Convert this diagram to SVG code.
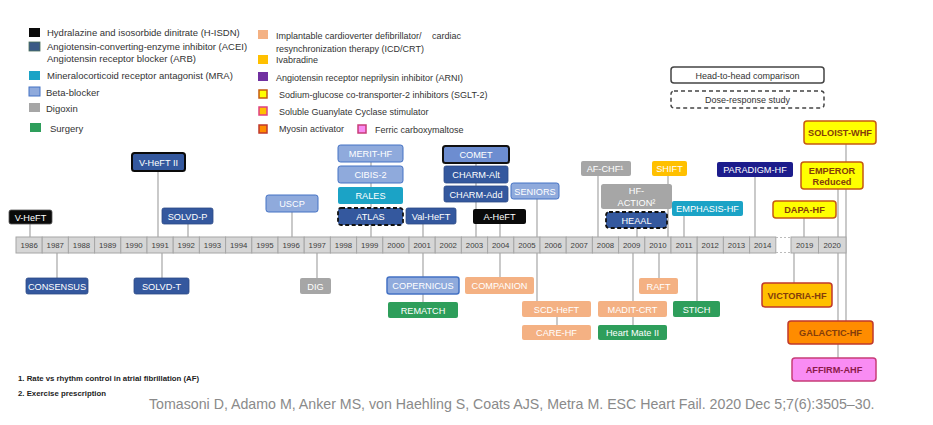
<svg xmlns="http://www.w3.org/2000/svg" width="933" height="425" viewBox="0 0 933 425">
<style>
text{font-family:"Liberation Sans",Arial,sans-serif}
.lg{font-size:9px;fill:#333}
.lg2{font-size:9.5px;fill:#333}
.b{font-size:9.2px;fill:#fff;text-anchor:middle}
.bd{font-size:9.2px;fill:#833c0b;text-anchor:middle;font-weight:bold}
.yr{font-size:7.8px;fill:#404040;text-anchor:middle}
.cell{fill:#d6d6d6;stroke:#a6a6a6;stroke-width:1}
.con line{stroke:#a6a6a6;stroke-width:1.2}
.hisdn{fill:#0a0a0a}
.acei{fill:#34589e;stroke:#2c4a86;stroke-width:0.8}
.mra{fill:#1ba3c6}
.beta{fill:#8faadc;stroke:#4472c4;stroke-width:1}
.dig{fill:#a6a6a6}
.surg{fill:#2e9e5b}
.icd{fill:#f4b183}
.iva{fill:#ffc000}
.arni{fill:#1c1c8c}
.sglt{fill:#ffff00;stroke:#c55a11;stroke-width:1.5}
.sgc{fill:#ffc000;stroke:#c0392b;stroke-width:1.5}
.myo{fill:#ff8c00;stroke:#c0392b;stroke-width:1.5}
.fcm{fill:#f98cf3;stroke:#c83c78;stroke-width:1.5}
.fn{font-size:7.8px;fill:#222;font-weight:bold}
</style>

<!-- Legend -->
<g id="legend">
<rect x="29" y="28" width="11" height="9" class="hisdn"/>
<text x="47" y="36" class="lg2">Hydralazine and isosorbide dinitrate (H-ISDN)</text>
<rect x="29" y="42" width="11" height="9" fill="#3b5a86" stroke="#4a6f5a" stroke-width="0.8"/>
<text x="47" y="50" class="lg2">Angiotensin-converting-enzyme inhibitor (ACEI)</text>
<text x="47" y="62" class="lg2">Angiotensin receptor blocker (ARB)</text>
<rect x="29" y="71" width="11" height="9" class="mra"/>
<text x="47" y="79" class="lg2">Mineralocorticoid receptor antagonist (MRA)</text>
<rect x="29" y="87" width="11" height="9" class="beta"/>
<text x="46" y="96" class="lg2">Beta-blocker</text>
<rect x="29" y="103" width="11" height="9" class="dig"/>
<text x="46" y="112" class="lg2">Digoxin</text>
<rect x="30" y="123" width="11" height="9" class="surg"/>
<text x="50" y="132" class="lg2">Surgery</text>

<rect x="258" y="30" width="10" height="9" class="icd"/>
<text x="276" y="39" class="lg">Implantable cardioverter defibrillator/<tspan x="432">cardiac</tspan></text>
<text x="276" y="52" class="lg">resynchronization therapy (ICD/CRT)</text>
<rect x="258" y="55" width="10" height="9" class="iva"/>
<text x="276" y="63" class="lg">Ivabradine</text>
<rect x="258" y="72" width="10" height="9" fill="#7030a0"/>
<text x="276" y="81" class="lg">Angiotensin receptor neprilysin inhibitor (ARNI)</text>
<rect x="259" y="90" width="8" height="8" class="sglt"/>
<text x="279" y="98" class="lg">Sodium-glucose co-transporter-2 inhibitors (SGLT-2)</text>
<rect x="259" y="107" width="8" height="8" fill="#ffc000" stroke="#e04080" stroke-width="1.5"/>
<text x="279" y="115" class="lg">Soluble Guanylate Cyclase stimulator</text>
<rect x="259" y="125" width="8" height="8" class="myo"/>
<text x="279" y="132" class="lg">Myosin activator</text>
<rect x="358" y="125" width="8" height="8" class="fcm"/>
<text x="375" y="133" class="lg">Ferric carboxymaltose</text>

<rect x="671" y="67" width="153" height="16" rx="3" fill="#fff" stroke="#444" stroke-width="1.5"/>
<text x="747.5" y="78.5" class="lg" text-anchor="middle">Head-to-head comparison</text>
<rect x="671" y="91" width="153" height="17" rx="3" fill="#fff" stroke="#444" stroke-width="1.5" stroke-dasharray="4,3"/>
<text x="747.5" y="103" class="lg" text-anchor="middle">Dose-response study</text>
</g>

<!-- Connectors -->
<g id="connectors" class="con">
<line x1="30" y1="224" x2="30" y2="237"/>
<line x1="158" y1="171" x2="158" y2="237"/>
<line x1="188" y1="224" x2="188" y2="237"/>
<line x1="292" y1="212" x2="292" y2="237"/>
<line x1="57" y1="253" x2="57" y2="278"/>
<line x1="162" y1="253" x2="162" y2="278"/>
<line x1="317" y1="253" x2="317" y2="278"/>
<line x1="371" y1="162" x2="371" y2="237"/>
<line x1="423" y1="224" x2="423" y2="237"/>
<line x1="476" y1="163" x2="476" y2="237"/>
<line x1="500" y1="224" x2="500" y2="237"/>
<line x1="537" y1="199" x2="537" y2="237"/>
<line x1="423" y1="253" x2="423" y2="302"/>
<line x1="500" y1="253" x2="500" y2="277"/>
<line x1="537" y1="253" x2="537" y2="301"/>
<line x1="557" y1="317" x2="557" y2="325"/>
<line x1="633" y1="253" x2="633" y2="325"/>
<line x1="659" y1="253" x2="659" y2="278"/>
<line x1="697" y1="253" x2="697" y2="301"/>
<line x1="598" y1="176" x2="598" y2="237"/>
<line x1="668" y1="176" x2="668" y2="237"/>
<line x1="637" y1="228" x2="637" y2="237"/>
<line x1="684" y1="216" x2="684" y2="237"/>
<line x1="755" y1="177" x2="755" y2="237"/>
<line x1="846" y1="144" x2="846" y2="321"/>
<line x1="838" y1="189" x2="838" y2="358"/>
<line x1="804" y1="218" x2="804" y2="237"/>
<line x1="794" y1="253" x2="794" y2="283"/>
</g>

<!-- Timeline -->
<g id="timeline">
<rect class="cell" x="16" y="237" width="26.2" height="16"/><text class="yr" x="29.1" y="248">1986</text>
<rect class="cell" x="42.2" y="237" width="26.2" height="16"/><text class="yr" x="55.3" y="248">1987</text>
<rect class="cell" x="68.4" y="237" width="26.2" height="16"/><text class="yr" x="81.5" y="248">1988</text>
<rect class="cell" x="94.6" y="237" width="26.2" height="16"/><text class="yr" x="107.7" y="248">1989</text>
<rect class="cell" x="120.8" y="237" width="26.2" height="16"/><text class="yr" x="133.9" y="248">1990</text>
<rect class="cell" x="147" y="237" width="26.2" height="16"/><text class="yr" x="160.1" y="248">1991</text>
<rect class="cell" x="173.2" y="237" width="26.2" height="16"/><text class="yr" x="186.3" y="248">1992</text>
<rect class="cell" x="199.4" y="237" width="26.2" height="16"/><text class="yr" x="212.5" y="248">1993</text>
<rect class="cell" x="225.6" y="237" width="26.2" height="16"/><text class="yr" x="238.7" y="248">1994</text>
<rect class="cell" x="251.8" y="237" width="26.2" height="16"/><text class="yr" x="264.9" y="248">1995</text>
<rect class="cell" x="278" y="237" width="26.2" height="16"/><text class="yr" x="291.1" y="248">1996</text>
<rect class="cell" x="304.2" y="237" width="26.2" height="16"/><text class="yr" x="317.3" y="248">1997</text>
<rect class="cell" x="330.4" y="237" width="26.2" height="16"/><text class="yr" x="343.5" y="248">1998</text>
<rect class="cell" x="356.6" y="237" width="26.2" height="16"/><text class="yr" x="369.7" y="248">1999</text>
<rect class="cell" x="382.8" y="237" width="26.2" height="16"/><text class="yr" x="395.9" y="248">2000</text>
<rect class="cell" x="409" y="237" width="26.2" height="16"/><text class="yr" x="422.1" y="248">2001</text>
<rect class="cell" x="435.2" y="237" width="26.2" height="16"/><text class="yr" x="448.3" y="248">2002</text>
<rect class="cell" x="461.4" y="237" width="26.2" height="16"/><text class="yr" x="474.5" y="248">2003</text>
<rect class="cell" x="487.6" y="237" width="26.2" height="16"/><text class="yr" x="500.7" y="248">2004</text>
<rect class="cell" x="513.8" y="237" width="26.2" height="16"/><text class="yr" x="526.9" y="248">2005</text>
<rect class="cell" x="540" y="237" width="26.2" height="16"/><text class="yr" x="553.1" y="248">2006</text>
<rect class="cell" x="566.2" y="237" width="26.2" height="16"/><text class="yr" x="579.3" y="248">2007</text>
<rect class="cell" x="592.4" y="237" width="26.2" height="16"/><text class="yr" x="605.5" y="248">2008</text>
<rect class="cell" x="618.6" y="237" width="26.2" height="16"/><text class="yr" x="631.7" y="248">2009</text>
<rect class="cell" x="644.8" y="237" width="26.2" height="16"/><text class="yr" x="657.9" y="248">2010</text>
<rect class="cell" x="671" y="237" width="26.2" height="16"/><text class="yr" x="684.1" y="248">2011</text>
<rect class="cell" x="697.2" y="237" width="26.2" height="16"/><text class="yr" x="710.3" y="248">2012</text>
<rect class="cell" x="723.4" y="237" width="26.2" height="16"/><text class="yr" x="736.5" y="248">2013</text>
<rect class="cell" x="749.6" y="237" width="26.2" height="16"/><text class="yr" x="762.7" y="248">2014</text>
<line x1="776" y1="237.5" x2="791" y2="237.5" stroke="#bbb" stroke-dasharray="2,2"/>
<line x1="776" y1="252.5" x2="791" y2="252.5" stroke="#bbb" stroke-dasharray="2,2"/>
<rect class="cell" x="791" y="237" width="27.5" height="16"/><text class="yr" x="804.7" y="248">2019</text>
<rect class="cell" x="818.5" y="237" width="27.5" height="16"/><text class="yr" x="832.2" y="248">2020</text>
</g>

<!-- Trials above -->
<g id="vheft"><rect x="9" y="210" width="43" height="14" rx="2" class="hisdn" stroke="#555" stroke-width="0.8"/><text class="b" x="30.5" y="220.5">V-HeFT</text></g>
<g id="vheft2"><rect x="132" y="153" width="53" height="18" rx="2.5" class="acei" style="stroke:#0a0a0a;stroke-width:2"/><text class="b" x="158.5" y="165.5">V-HeFT II</text></g>
<g id="solvdp"><rect x="162" y="208" width="51" height="16" rx="2" class="acei"/><text class="b" x="187.5" y="219.5">SOLVD-P</text></g>
<g id="uscp"><rect x="266" y="195" width="52" height="17" rx="2.5" class="beta"/><text class="b" x="292" y="206.5">USCP</text></g>
<g id="merit"><rect x="338" y="145" width="65" height="17" rx="2.5" class="beta"/><text class="b" x="370.5" y="156.5">MERIT-HF</text></g>
<g id="cibis"><rect x="338" y="166" width="65" height="17" rx="2.5" class="beta"/><text class="b" x="370.5" y="177.5">CIBIS-2</text></g>
<g id="rales"><rect x="338" y="187" width="65" height="17" rx="2" class="mra"/><text class="b" x="370.5" y="198.5">RALES</text></g>
<g id="atlas"><rect x="338" y="208" width="65" height="17" rx="3" class="acei" style="stroke:#111;stroke-width:1.8;stroke-dasharray:4,2.5"/><text class="b" x="370.5" y="219.5">ATLAS</text></g>
<g id="valheft"><rect x="406" y="208" width="50" height="16" rx="2" class="acei"/><text class="b" x="431" y="219.5">Val-HeFT</text></g>
<g id="comet"><rect x="443" y="146" width="66" height="17" rx="2.5" fill="#6d8dd0" stroke="#111" stroke-width="2"/><text class="b" x="476" y="157.5">COMET</text></g>
<g id="charmalt"><rect x="444" y="166" width="64" height="17" rx="2" class="acei"/><text class="b" x="476" y="177.5">CHARM-Alt</text></g>
<g id="charmadd"><rect x="444" y="186" width="64" height="16" rx="2" class="acei"/><text class="b" x="476" y="197.5">CHARM-Add</text></g>
<g id="aheft"><rect x="473" y="209" width="53" height="15" rx="2" class="hisdn"/><text class="b" x="499.5" y="220">A-HeFT</text></g>
<g id="seniors"><rect x="511" y="183" width="48" height="16" rx="2.5" class="beta"/><text class="b" x="535" y="194.5">SENIORS</text></g>
<g id="afchf"><rect x="581" y="161" width="50" height="15" rx="2" class="dig"/><text class="b" x="605" y="172">AF-CHF¹</text></g>
<g id="shift"><rect x="652" y="161" width="35" height="15" rx="2" class="iva"/><text class="b" x="669.5" y="172">SHIFT</text></g>
<g id="hfaction"><rect x="601" y="184" width="71" height="25" rx="2.5" class="dig"/><text class="b" x="636.5" y="194">HF-</text><text class="b" x="636.5" y="206">ACTION²</text></g>
<g id="heaal"><rect x="606" y="212" width="61" height="16" rx="3" class="acei" style="stroke:#111;stroke-width:1.8;stroke-dasharray:4,2.5"/><text class="b" x="636.5" y="223.5">HEAAL</text></g>
<g id="emphasis"><rect x="672" y="201" width="71" height="15" rx="2" class="mra"/><text class="b" x="707.5" y="212">EMPHASIS-HF</text></g>
<g id="paradigm"><rect x="717" y="162" width="76" height="15" rx="2" class="arni"/><text class="b" x="755" y="173">PARADIGM-HF</text></g>
<g id="soloist"><rect x="804" y="121" width="72" height="23" rx="3" class="sglt"/><text class="bd" x="840" y="135.5">SOLOIST-WHF</text></g>
<g id="emperor"><rect x="801" y="162" width="62" height="27" rx="3" class="sglt"/><text class="bd" x="832" y="173.5">EMPEROR</text><text class="bd" x="832" y="185">Reduced</text></g>
<g id="dapa"><rect x="773" y="201" width="63" height="17" rx="3" class="sglt"/><text class="bd" x="804.5" y="212.5">DAPA-HF</text></g>

<!-- Trials below -->
<g id="consensus"><rect x="26" y="278" width="62" height="16" rx="2" class="acei"/><text class="b" x="57" y="289.5">CONSENSUS</text></g>
<g id="solvdt"><rect x="134" y="278" width="55" height="16" rx="2" class="acei"/><text class="b" x="161.5" y="289.5">SOLVD-T</text></g>
<g id="dig"><rect x="300" y="278" width="31" height="16" rx="2" class="dig"/><text class="b" x="315.5" y="289.5">DIG</text></g>
<g id="copernicus"><rect x="387" y="277" width="72" height="17" rx="2.5" class="beta" style="stroke-width:1.5"/><text class="b" x="423" y="288.5">COPERNICUS</text></g>
<g id="rematch"><rect x="388" y="302" width="70" height="16" rx="2" class="surg"/><text class="b" x="423" y="313.5">REMATCH</text></g>
<g id="companion"><rect x="465" y="277" width="69" height="17" rx="2" class="icd"/><text class="b" x="499.5" y="288.5">COMPANION</text></g>
<g id="scdheft"><rect x="522" y="301" width="69" height="16" rx="2" class="icd"/><text class="b" x="556.5" y="312.5">SCD-HeFT</text></g>
<g id="carehf"><rect x="522" y="325" width="69" height="15" rx="2" class="icd"/><text class="b" x="556.5" y="336">CARE-HF</text></g>
<g id="maditcrt"><rect x="598" y="301" width="69" height="16" rx="2" class="icd"/><text class="b" x="632.5" y="312.5">MADIT-CRT</text></g>
<g id="heartmate"><rect x="598" y="325" width="69" height="15" rx="2" class="surg"/><text class="b" x="632.5" y="336">Heart Mate II</text></g>
<g id="raft"><rect x="639" y="278" width="39" height="16" rx="2" class="icd"/><text class="b" x="658.5" y="289.5">RAFT</text></g>
<g id="stich"><rect x="673" y="301" width="47" height="16" rx="2" class="surg"/><text class="b" x="696.5" y="312.5">STICH</text></g>
<g id="victoria"><rect x="762" y="283" width="70" height="24" rx="3" class="sgc"/><text class="bd" x="797" y="298.5">VICTORIA-HF</text></g>
<g id="galactic"><rect x="788" y="321" width="85" height="23" rx="3" class="myo"/><text class="bd" x="830.5" y="336">GALACTIC-HF</text></g>
<g id="affirm"><rect x="792" y="358" width="84" height="23" rx="3" class="fcm"/><text class="bd" x="834" y="373" style="fill:#8b1a4a">AFFIRM-AHF</text></g>

<!-- Footnotes -->
<g id="notes">
<text x="18" y="381" class="fn">1. Rate vs rhythm control in atrial fibrillation (AF)</text>
<text x="18" y="396" class="fn">2. Exercise prescription</text>
<text x="149" y="409" style="font-size:14.2px;fill:#8a8a8a">Tomasoni D, Adamo M, Anker MS, von Haehling S, Coats AJS, Metra M. ESC Heart Fail. 2020 Dec 5;7(6):3505–30.</text>
</g>
</svg>
